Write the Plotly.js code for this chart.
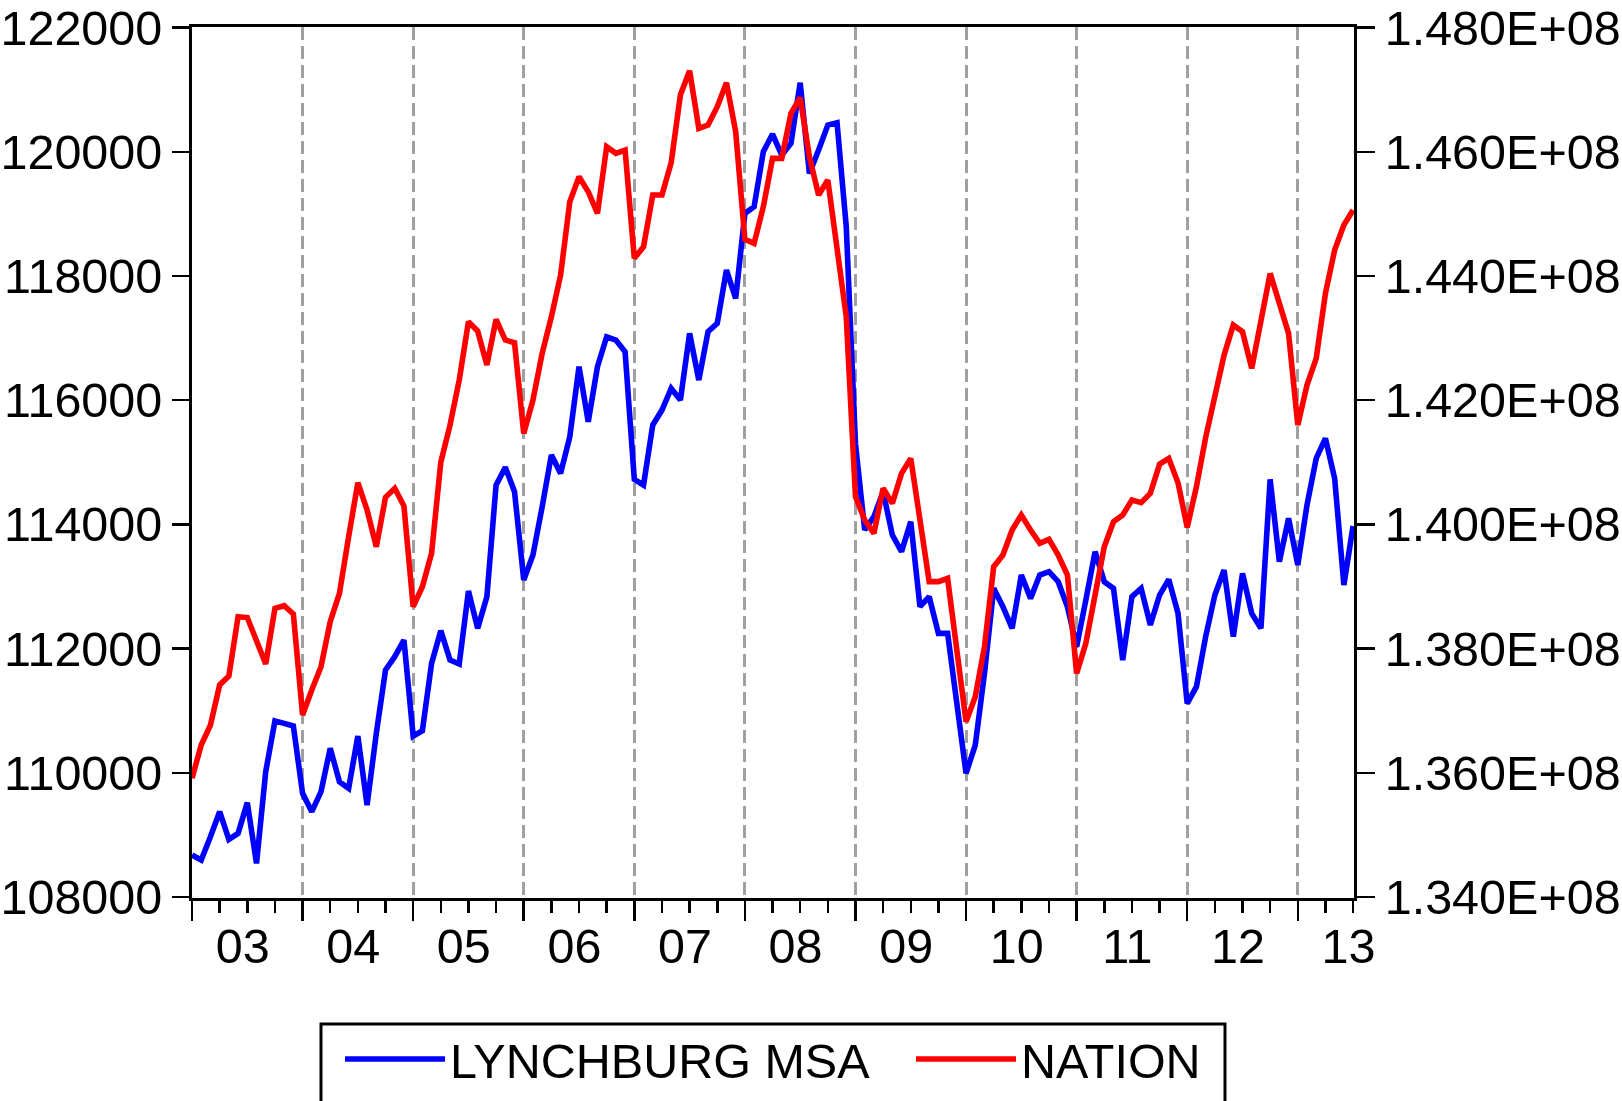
<!DOCTYPE html>
<html>
<head>
<meta charset="utf-8">
<script src="https://cdn.plot.ly/plotly-3.0.1.min.js"></script>
<style>
  html, body { margin: 0; padding: 0; background: #ffffff; }
  #chart { width: 1622px; height: 1101px; }
</style>
</head>
<body>
<div id="chart"></div>
<script>
// ---------------- DATA ----------------
// Monthly observations, 2003M01 .. 2013M07
const startYear = 2003;
const nObs = 127;
const months = [];
for (let i = 0; i < nObs; i++) {
  const y = startYear + Math.floor(i / 12);
  const m = (i % 12) + 1;
  months.push(y + "M" + (m < 10 ? "0" + m : m));
}

// LYNCHBURG MSA (left axis)
const lynchburg = [
  108676,108595,108971,109374,108928,109025,109519,108542,110018,110834,110796,110753,
  109669,109374,109696,110394,109857,109750,110592,109481,110635,111655,111870,112138,
  110592,110678,111762,112289,111816,111752,112927,112326,112836,114634,114919,114527,
  113104,113507,114285,115117,114822,115412,116539,115654,116539,117022,116969,116781,
  114726,114634,115600,115841,116190,116002,117076,116324,117103,117237,118096,117640,
  119009,119116,120002,120286,119948,120136,121113,119653,120028,120431,120469,118794,
  115300,113910,114124,114527,113829,113561,114044,112675,112836,112246,112246,111118,
  109991,110447,111601,112970,112675,112326,113185,112809,113185,113239,113078,112675,
  112031,112782,113561,113078,112970,111816,112836,112970,112380,112863,113115,112568,
  111118,111387,112192,112863,113265,112192,113212,112568,112326,114726,113400,114098,
  113346,114312,115064,115386,114742,113024,113974
];

// NATION (right axis)
const nation = [
  135911000,136447000,136769000,137414000,137558000,138514000,138500000,138138000,137752000,138648000,138691000,138557000,
  136930000,137333000,137709000,138434000,138890000,139802000,140672000,140232000,139641000,140436000,140581000,140296000,
  138675000,138997000,139534000,141000000,141600000,142325000,143264000,143114000,142566000,143302000,142969000,142926000,
  141466000,142002000,142754000,143344000,144015000,145196000,145599000,145357000,145009000,146082000,145975000,146028000,
  144284000,144472000,145304000,145304000,145824000,146914000,147306000,146377000,146431000,146726000,147113000,146324000,
  144590000,144525000,145116000,145894000,145894000,146619000,146871000,145921000,145304000,145545000,144461000,143344000,
  140446000,140071000,139856000,140581000,140339000,140822000,141064000,140017000,139078000,139078000,139131000,137977000,
  136823000,137226000,138031000,139319000,139507000,139910000,140151000,139910000,139695000,139759000,139507000,139185000,
  137601000,138085000,138890000,139641000,140044000,140151000,140393000,140350000,140500000,140972000,141064000,140672000,
  139952000,140607000,141400000,142029000,142727000,143210000,143103000,142512000,143318000,144042000,143559000,143076000,
  141600000,142244000,142673000,143720000,144418000,144821000,145062000
];

// Tick labels
const yearLabels = ["03","04","05","06","07","08","09","10","11","12","13"];
const leftTickVals = [108000,110000,112000,114000,116000,118000,120000,122000];
const leftTickText = ["108000","110000","112000","114000","116000","118000","120000","122000"];
const rightTickVals = [134000000,136000000,138000000,140000000,142000000,144000000,146000000,148000000];
const rightTickText = ["1.340E+08","1.360E+08","1.380E+08","1.400E+08","1.420E+08","1.440E+08","1.460E+08","1.480E+08"];

// ---------------- LAYOUT HELPERS ----------------
const xIdx = months.map((_, i) => i);
const yearStarts = yearLabels.map((_, k) => 12 * k);
const yearLabelPos = yearLabels.map((_, k) => 12 * k + 5.5);
const quarterTicks = [];
yearStarts.forEach(s => [3, 6, 9].forEach(q => { if (s + q <= nObs - 1) quarterTicks.push(s + q); }));

const FONT = "Liberation Sans, Arial, sans-serif";
const FS = 48.5;
const xRange = [0, 126.1];
const yRange = [107984, 122010];
const y2Range = [133984000, 148010000];

// plot-area geometry in px (for paper-coordinate placement of legend)
const PL = 192, PR = 1354, PT = 27, PB = 898;
const PW = PR - PL, PH = PB - PT;
const px2paperX = px => (px - PL) / PW;
const px2paperY = py => (PB - py) / PH;

const LINE_W = 5.6;

const traces = [
  {
    x: xIdx, y: lynchburg, name: "LYNCHBURG MSA",
    type: "scatter", mode: "lines",
    line: { color: "#0000ff", width: LINE_W },
    xaxis: "x", yaxis: "y", hoverinfo: "skip"
  },
  {
    x: xIdx, y: nation, name: "NATION",
    type: "scatter", mode: "lines",
    line: { color: "#ff0000", width: LINE_W },
    xaxis: "x2", yaxis: "y2", hoverinfo: "skip"
  }
];

const LEG_ITEMW = 100;

const layout = {
  width: 1622, height: 1101,
  margin: { l: PL, r: 1622 - PR, t: PT, b: 1101 - PB, autoexpand: false },
  paper_bgcolor: "#ffffff", plot_bgcolor: "#ffffff",
  font: { family: FONT, size: FS, color: "#000000" },
  showlegend: true,
  legend: {
    orientation: "h",
    x: px2paperX(340), xanchor: "left",
    y: px2paperY(1021), yanchor: "top",
    borderwidth: 0, bgcolor: "rgba(0,0,0,0)",
    font: { family: FONT, size: FS, color: "#000000" },
    itemwidth: LEG_ITEMW,
    entrywidth: 571 - 15 - LEG_ITEMW,
    entrywidthmode: "pixels"
  },
  shapes: [
    {
      type: "rect", xref: "paper", yref: "paper", layer: "above",
      x0: px2paperX(321), x1: px2paperX(1225),
      y0: px2paperY(1024), y1: px2paperY(1130),
      line: { color: "#000000", width: 3 }, fillcolor: "rgba(0,0,0,0)"
    }
  ],
  xaxis: {
    range: xRange, fixedrange: true,
    tickmode: "array", tickvals: yearLabelPos, ticktext: yearLabels,
    ticks: "", showgrid: false, zeroline: false,
    showline: true, linecolor: "#000000", linewidth: 3, mirror: true,
    tickfont: { family: FONT, size: FS, color: "#000000" },
    ticklabelstandoff: 4,
    minor: {
      tickmode: "array", tickvals: quarterTicks,
      ticks: "outside", ticklen: 12, tickwidth: 2.5, tickcolor: "#000000",
      showgrid: false
    }
  },
  xaxis2: {
    range: xRange, fixedrange: true, overlaying: "x", anchor: "y", side: "bottom",
    tickmode: "array", tickvals: yearStarts,
    ticks: "outside", ticklen: 22, tickwidth: 2.5, tickcolor: "#000000",
    showticklabels: false,
    showgrid: true, gridcolor: "#a0a0a0", gridwidth: 3, griddash: "13px,6px",
    zeroline: false, showline: false
  },
  yaxis: {
    range: yRange, fixedrange: true,
    tickmode: "array", tickvals: leftTickVals, ticktext: leftTickText,
    ticks: "outside", ticklen: 17, tickwidth: 2.5, tickcolor: "#000000",
    showgrid: false, zeroline: false,
    showline: true, linecolor: "#000000", linewidth: 3,
    tickfont: { family: FONT, size: FS, color: "#000000" }
  },
  yaxis2: {
    range: y2Range, fixedrange: true, overlaying: "y", side: "right", anchor: "x",
    tickmode: "array", tickvals: rightTickVals, ticktext: rightTickText,
    ticks: "outside", ticklen: 18, tickwidth: 2.5, tickcolor: "#000000",
    showgrid: false, zeroline: false,
    showline: true, linecolor: "#000000", linewidth: 3,
    tickfont: { family: FONT, size: FS, color: "#000000" }
  }
};

Plotly.newPlot("chart", traces, layout, { displayModeBar: false, staticPlot: true });
</script>
</body>
</html>
